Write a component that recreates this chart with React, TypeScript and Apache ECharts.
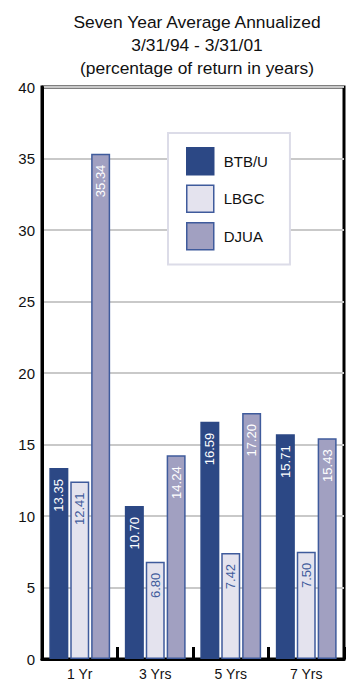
import React, { useEffect, useRef } from "react";
import * as echarts from "echarts";

const titleLines = ["Seven Year Average Annualized", "3/31/94 - 3/31/01", "(percentage of return in years)"];
const categories = ["1 Yr", "3 Yrs", "5 Yrs", "7 Yrs"];
const seriesNames = ["BTB/U", "LBGC", "DJUA"];
const btbu = [13.35, 10.7, 16.59, 15.71];
const lbgc = [12.41, 6.8, 7.42, 7.5];
const djua = [35.34, 14.24, 17.2, 15.43];
const yMin = 0;
const yMax = 40;
const yInterval = 5;

const FONT = "'Liberation Sans', Arial, sans-serif";

export default function App() {
  const ref = useRef<HTMLDivElement>(null);
  useEffect(() => {
    if (!ref.current) return;
    const chart = echarts.init(ref.current, null, { renderer: "svg" });
    const label = (color: string) => ({
      show: true,
      position: "insideTop",
      rotate: 90,
      align: "right",
      verticalAlign: "middle",
      distance: 11,
      color,
      fontFamily: FONT,
      fontSize: 13,
      formatter: (p: any) => Number(p.value).toFixed(2),
    });
    const styles = [
      { fill: "#2c4885", border: "#2c4885", lab: "#ffffff" },
      { fill: "#e4e3ee", border: "#3f5b9c", lab: "#3f5b9c" },
      { fill: "#a1a0c1", border: "#3f5b9c", lab: "#ffffff" },
    ];
    const datas = [btbu, lbgc, djua];
    chart.setOption({
      animation: false,
      backgroundColor: "#ffffff",
      graphic: titleLines.map((t, i) => ({
        type: "text",
        x: 197,
        y: 22 + i * 23,
        style: {
          text: t,
          fontFamily: FONT,
          fontSize: 17.4,
          fill: "#111111",
          textAlign: "center",
          textVerticalAlign: "middle",
        },
      })),
      legend: {
        orient: "vertical",
        left: 168,
        top: 133,
        padding: [14, 22, 14, 18],
        itemWidth: 27,
        itemHeight: 27,
        itemGap: 9,
        icon: "rect",
        backgroundColor: "#ffffff",
        borderColor: "#dcdce8",
        borderWidth: 2,
        borderRadius: 0,
        textStyle: { fontFamily: FONT, fontSize: 15, color: "#111111", padding: [0, 0, 0, 5] },
        data: seriesNames.map((n, i) => ({
          name: n,
          icon: "rect",
          itemStyle: { color: styles[i].fill, borderColor: styles[i].border, borderWidth: 1.5 },
        })),
      },
      grid: {
        left: 42,
        right: 8,
        top: 87,
        bottom: 22,
        show: true,
        borderColor: "#000000",
        borderWidth: 3,
        backgroundColor: "transparent",
      },
      xAxis: {
        type: "category",
        data: categories,
        axisLine: { show: true, lineStyle: { color: "#000000", width: 3 } },
        axisTick: { show: true, inside: true, length: 12, lineStyle: { color: "#000000", width: 3 } },
        axisLabel: { color: "#111111", fontFamily: FONT, fontSize: 14, margin: 8 },
      },
      yAxis: {
        type: "value",
        min: yMin,
        max: yMax,
        interval: yInterval,
        axisLine: { show: true, lineStyle: { color: "#000000", width: 3 } },
        axisTick: { show: false },
        axisLabel: { color: "#111111", fontFamily: FONT, fontSize: 15, margin: 7 },
        splitLine: { show: true, lineStyle: { color: "#c9c9c9", width: 2 } },
      },
      series: seriesNames.map((n, i) => ({
        name: n,
        type: "bar",
        data: datas[i],
        barWidth: 19,
        barGap: "10%",
        itemStyle: { color: styles[i].fill, borderColor: styles[i].border, borderWidth: 1.5 },
        label: label(styles[i].lab),
      })),
    });
    return () => chart.dispose();
  }, []);
  return (
    <div
      ref={ref}
      style={{ position: "fixed", left: 0, top: 0, width: 352, height: 681 }}
    />
  );
}
